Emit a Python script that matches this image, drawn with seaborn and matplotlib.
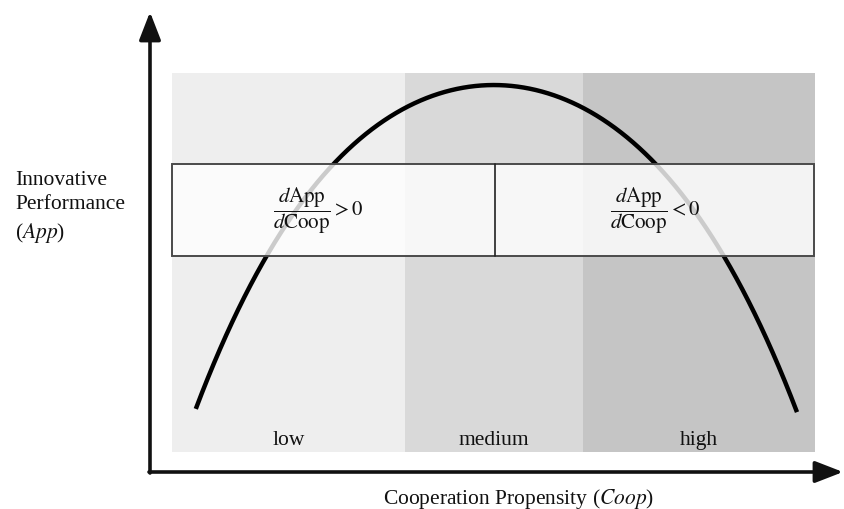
import matplotlib
matplotlib.use("Agg")
import matplotlib.pyplot as plt
import seaborn as sns
import pandas as pd
from matplotlib.patches import Rectangle

# ---------- DATA ----------
# Coop / App both on a 0-100 scale across the shaded band
zone_names = ["low", "medium", "high"]
zone_edges = [0, 36.2, 63.9, 100]
zone_colors = ["#eeeeee", "#d9d9d9", "#c5c5c5"]

# points
curve_coop = [3.7, 7.2, 10.9, 14.9, 19.9, 25.3, 28.1, 32.3, 36.5, 41.7, 46.0,
              50.2, 53.8, 57.2, 63.5, 67.7, 72.3, 75.4, 80.6, 86.0, 91.9, 97.2]
curve_app = [10.6, 27.2, 40.4, 51.7, 64.1, 76.0, 81.3, 87.6, 91.0, 95.0, 96.0,
             96.6, 96.0, 95.3, 91.0, 87.1, 81.3, 76.0, 64.1, 51.7, 31.7, 10.6]

box_x = [0, 50.2, 99.8]      # left edge, divider, right edge
box_y = [51.7, 76.0]         # bottom, top
box_text_x = [22.7, 75.1]
box_texts = [r"$\dfrac{d\mathrm{App}}{d\mathrm{Coop}} > 0$",
             r"$\dfrac{d\mathrm{App}}{d\mathrm{Coop}} < 0$"]

df = pd.DataFrame({"Coop": curve_coop, "App": curve_app})

# ---------- STYLE ----------
sns.set_theme(style="white")
plt.rcParams["font.family"] = ["Liberation Serif", "DejaVu Serif"]
plt.rcParams["mathtext.fontset"] = "stix"
FS = 15.5
TXT = "#111111"

fig = plt.figure(figsize=(8.45, 5.1), dpi=100)
ax = fig.add_axes([172 / 845, 57 / 510, 643 / 845, 379 / 510])
ax.set_xlim(0, 100)
ax.set_ylim(0, 100)

# shaded zones
for name, x0, x1, col in zip(zone_names, zone_edges[:-1], zone_edges[1:], zone_colors):
    ax.axvspan(x0, x1, color=col, lw=0, zorder=0)
    ax.text((x0 + x1) / 2, 3.4, name, ha="center", va="center", fontsize=FS, color=TXT)

# inverted U curve (smooth polynomial fit through the read points)
sns.regplot(data=df, x="Coop", y="App", ax=ax, order=4, ci=None, scatter=False,
            line_kws=dict(color="black", lw=3.2, zorder=2, solid_capstyle="butt"))
ax.set_xlim(0, 100)
ax.set_ylim(0, 100)
ax.axis("off")

# translucent box with two cells
ax.add_patch(Rectangle((box_x[0], box_y[0]), box_x[2] - box_x[0], box_y[1] - box_y[0],
                       facecolor="white", alpha=0.8, edgecolor="none", zorder=3))
ax.add_patch(Rectangle((box_x[0], box_y[0]), box_x[2] - box_x[0], box_y[1] - box_y[0],
                       facecolor="none", edgecolor="#4a4a4a", lw=1.4, zorder=4, clip_on=False))
ax.plot([box_x[1], box_x[1]], box_y, color="#222222", lw=1.2, zorder=4)
for tx, t in zip(box_text_x, box_texts):
    ax.text(tx, (box_y[0] + box_y[1]) / 2, t, ha="center", va="center", fontsize=15,
            color=TXT, zorder=5)

# axis arrows (figure pixels, origin bottom-left)
arrow = dict(arrowstyle="-|>,head_length=0.85,head_width=0.33", lw=2.6, color=TXT,
             mutation_scale=20, shrinkA=0, shrinkB=0)
ax.annotate("", xy=(150, 497), xytext=(150, 36), xycoords="figure pixels",
            textcoords="figure pixels", arrowprops=arrow, annotation_clip=False)
ax.annotate("", xy=(843, 37), xytext=(149, 37), xycoords="figure pixels",
            textcoords="figure pixels", arrowprops=arrow, annotation_clip=False)

# axis titles
fig.text(15 / 845, (510 - 208) / 510, "Innovative\nPerformance\n($\\mathit{App}$)",
         ha="left", va="center", fontsize=FS, linespacing=1.38, color=TXT)
fig.text(519 / 845, (510 - 499) / 510, "Cooperation Propensity ($\\mathit{Coop}$)",
         ha="center", va="center", fontsize=FS, color=TXT)

fig.savefig("out.png", dpi=100)
